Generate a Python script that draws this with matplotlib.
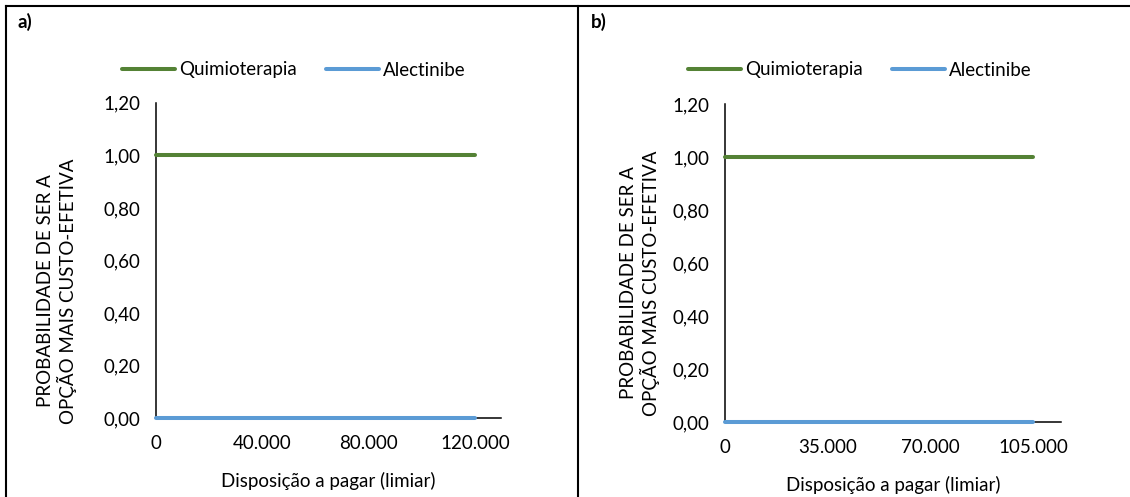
import matplotlib
matplotlib.use("Agg")
import matplotlib.pyplot as plt
from matplotlib.lines import Line2D

plt.rcParams['font.family'] = ['Lato', 'DejaVu Sans']

# ---- data ----
series_names = ["Quimioterapia", "Alectinibe"]
wtp_a = [0, 40000, 80000, 120000]
quimio_a = [1.0, 1.0, 1.0, 1.0]
alect_a = [0.0, 0.0, 0.0, 0.0]
xticks_a = [0, 40000, 80000, 120000]
xticklabels_a = ["0", "40.000", "80.000", "120.000"]

wtp_b = [0, 35000, 70000, 105000]
quimio_b = [1.0, 1.0, 1.0, 1.0]
alect_b = [0.0, 0.0, 0.0, 0.0]
xticks_b = [0, 35000, 70000, 105000]
xticklabels_b = ["0", "35.000", "70.000", "105.000"]

yticks = [0.0, 0.2, 0.4, 0.6, 0.8, 1.0, 1.2]
yticklabels = ["0,00", "0,20", "0,40", "0,60", "0,80", "1,00", "1,20"]

panel_labels = ["a)", "b)"]
ylabel = "PROBABILIDADE DE SER A\nOPÇÃO MAIS CUSTO-EFETIVA"
xlabel = "Disposição a pagar (limiar)"

GREEN = "#548235"
BLUE = "#5B9BD5"
FS = 13.5

W, H = 1130, 497
fig = plt.figure(figsize=(W / 100, H / 100), dpi=100)


def px_axes(l, r, b, t):
    return [l / W, 1 - b / H, (r - l) / W, (b - t) / H]


def make_panel(rect, wtp, q, a, xt, xtl, xmax, ylab_xy, leg_center):
    ax = fig.add_axes(rect)
    ax.plot(wtp, q, color=GREEN, lw=2.9, solid_capstyle='round', clip_on=False, zorder=3)
    ax.plot(wtp, a, color=BLUE, lw=2.9, solid_capstyle='round', clip_on=False, zorder=4)
    ax.set_xlim(0, xmax)
    ax.set_ylim(0, 1.2)
    ax.set_xticks(xt)
    ax.set_xticklabels(xtl)
    ax.set_yticks(yticks)
    ax.set_yticklabels(yticklabels)
    ax.tick_params(length=0, labelsize=FS, colors='black')
    ax.tick_params(axis='y', pad=11.0)
    ax.tick_params(axis='x', pad=12.0)
    for s in ['top', 'right']:
        ax.spines[s].set_visible(False)
    for s in ['left', 'bottom']:
        ax.spines[s].set_color('black')
        ax.spines[s].set_linewidth(1.1)
        ax.spines[s].set_zorder(2)
    ax.set_xlabel(xlabel, fontsize=FS)
    ax.xaxis.set_label_coords(0.5, -0.197)
    ax.xaxis.label.set_va('center')
    ax.set_ylabel(ylabel, fontsize=FS, linespacing=1.15, va='center', ha='center')
    ax.yaxis.set_label_coords(*ylab_xy)
    handles = [Line2D([], [], color=GREEN, lw=2.9, solid_capstyle='round'),
               Line2D([], [], color=BLUE, lw=2.9, solid_capstyle='round')]
    fig.legend(handles, series_names, loc='center', ncol=2, frameon=False,
               fontsize=FS, handlelength=2.8, handletextpad=0.25, columnspacing=1.55,
               bbox_to_anchor=(leg_center[0] / W, 1 - leg_center[1] / H),
               bbox_transform=fig.transFigure)
    return ax


make_panel(px_axes(156, 500.7, 418.3, 102.7), wtp_a, quimio_a, alect_a,
           xticks_a, xticklabels_a, 129700, (-0.287, 0.404), (294, 70))
make_panel(px_axes(725, 1061, 422, 104), wtp_b, quimio_b, alect_b,
           xticks_b, xticklabels_b, 114550, (-0.253, 0.437), (860, 70))

# table borders
lw_b = 1.5
fig.add_artist(Line2D([6 / W, 1.0], [1 - 6 / H, 1 - 6 / H], color='black', lw=lw_b,
                      transform=fig.transFigure))
fig.add_artist(Line2D([6 / W, 6 / W], [0, 1 - 6 / H], color='black', lw=lw_b,
                      transform=fig.transFigure))
fig.add_artist(Line2D([578 / W, 578 / W], [0, 1 - 6 / H], color='black', lw=lw_b,
                      transform=fig.transFigure))

fig.text(17 / W, 1 - 22 / H, panel_labels[0], fontsize=FS, fontweight='bold',
         ha='left', va='center')
fig.text(591 / W, 1 - 22 / H, panel_labels[1], fontsize=FS, fontweight='bold',
         ha='left', va='center')

fig.savefig("out.png", dpi=100)
